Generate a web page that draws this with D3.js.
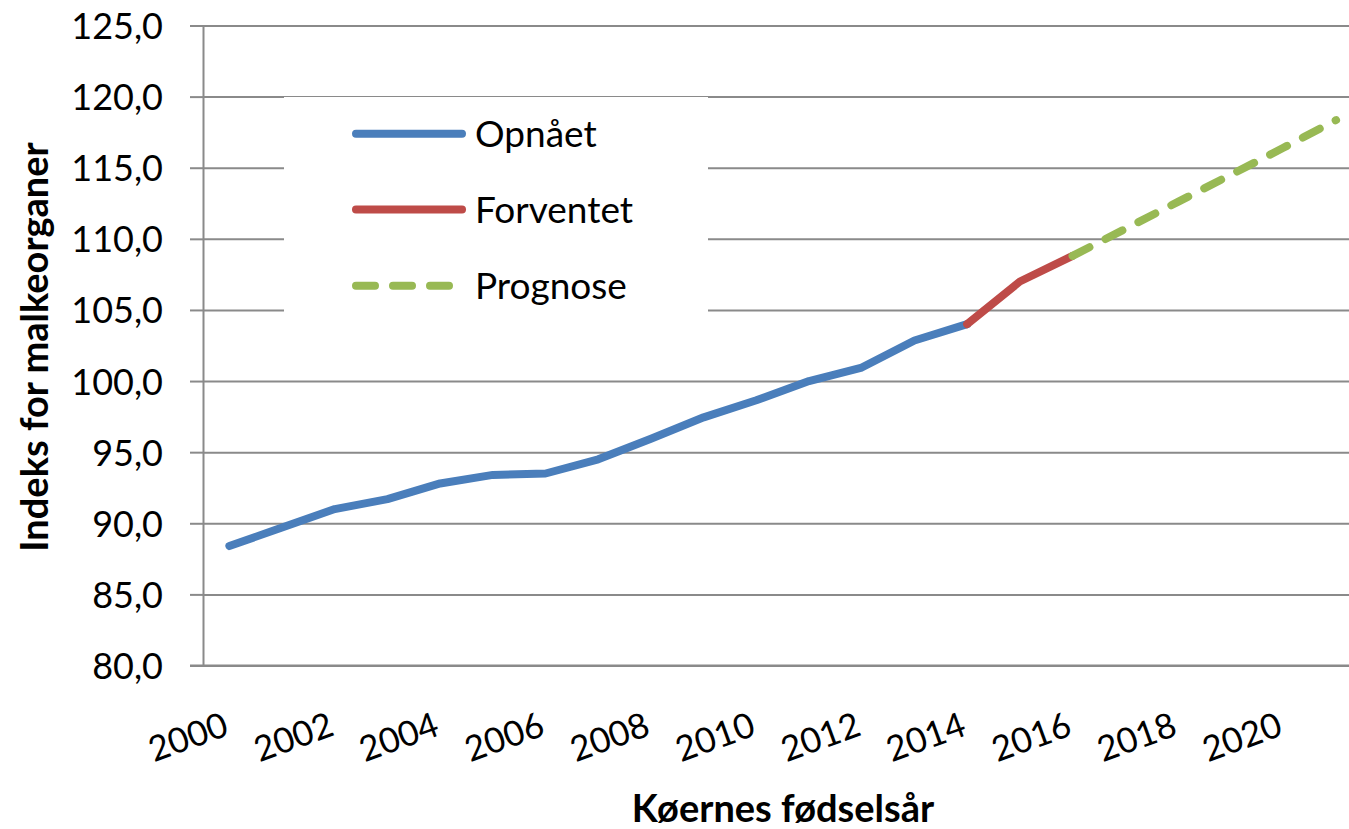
<!DOCTYPE html>
<html>
<head>
<meta charset="utf-8">
<script src="https://cdn.jsdelivr.net/npm/d3@7"></script>
<style>
  html, body { margin: 0; padding: 0; background: #ffffff; overflow: hidden; }
  svg { display: block; }
  text { font-family: Lato, "Open Sans", "Liberation Sans", sans-serif; fill: #000; }
</style>
</head>
<body>
<svg id="chart" width="1349" height="829"></svg>
<script>
// ---- data ----
const years = d3.range(2000, 2022).map(String);
const yTicks = [80, 85, 90, 95, 100, 105, 110, 115, 120, 125];
const xTickLabels = ["2000","2002","2004","2006","2008","2010","2012","2014","2016","2018","2020"];

const opnaetYears = ["2000","2001","2002","2003","2004","2005","2006","2007","2008","2009","2010","2011","2012","2013","2014"];
const opnaetValues = [88.4, 89.7, 91.0, 91.7, 92.8, 93.4, 93.5, 94.5, 95.95, 97.45, 98.65, 100.0, 100.95, 102.85, 104.0];

const forventetYears = ["2014","2015","2016"];
const forventetValues = [104.0, 107.0, 108.8];

const prognoseYears = ["2016","2017","2018","2019","2020","2021"];
const prognoseValues = [108.8, 110.7, 112.6, 114.5, 116.4, 118.35];

const seriesNames = ["Opnået", "Forventet", "Prognose"];
const seriesColors = ["#4a7ebb", "#be4b48", "#98b954"];

const yTitle = "Indeks for malkeorganer";
const xTitle = "Køernes fødselsår";

// ---- layout ----
const plotLeft = 203, plotTop = 25.5, plotBottom = 665.5;
const band = 52.7;
const plotRight = plotLeft + band * years.length;

const svg = d3.select("#chart");

const x = d3.scaleBand().domain(years).range([plotLeft, plotRight]).padding(0);
const xc = d => x(d) + x.bandwidth() / 2;
const y = d3.scaleLinear().domain([80, 125]).range([plotBottom, plotTop]);

const gridColor = "#8a8a8a";

// gridlines
const grid = svg.append("g")
  .attr("transform", `translate(${plotLeft},0)`)
  .call(d3.axisLeft(y).tickValues(yTicks).tickSizeInner(-(plotRight - plotLeft)).tickSizeOuter(0).tickFormat(""));
grid.select(".domain").remove();
grid.selectAll(".tick line").attr("stroke", gridColor).attr("stroke-width", 2);

// y axis ticks + labels
const fmt = v => d3.format(".1f")(v).replace(".", ",");
const yAxis = svg.append("g")
  .attr("transform", `translate(${plotLeft},0)`)
  .call(d3.axisLeft(y).tickValues(yTicks).tickSize(13).tickPadding(27).tickFormat(fmt));
yAxis.select(".domain").attr("stroke", gridColor).attr("stroke-width", 2);
yAxis.selectAll(".tick line").attr("stroke", gridColor).attr("stroke-width", 2);
yAxis.selectAll(".tick text")
  .attr("font-family", "Lato, 'Open Sans', sans-serif")
  .attr("font-size", 36).attr("fill", "#000").attr("dy", "0.36em");

// x axis
const xAxis = svg.append("g")
  .attr("transform", `translate(0,${plotBottom})`)
  .call(d3.axisBottom(x).tickValues(xTickLabels).tickSize(0).tickFormat(d => d));
xAxis.select(".domain").remove();
xAxis.append("line")
  .attr("x1", plotLeft - 13).attr("x2", plotRight)
  .attr("y1", 0).attr("y2", 0)
  .attr("stroke", gridColor).attr("stroke-width", 2);
xAxis.selectAll(".tick text")
  .attr("font-family", "Lato, 'Open Sans', sans-serif")
  .attr("font-size", 35).attr("fill", "#000")
  .attr("text-anchor", "end")
  .attr("x", 0).attr("y", 0).attr("dy", 0)
  .attr("transform", "translate(1,69) rotate(-20)");

// legend box (white, covers gridlines)
const legend = svg.append("g");
legend.append("rect")
  .attr("x", 284).attr("y", 97).attr("width", 424).attr("height", 222)
  .attr("fill", "#fff");
const legendY = [133.7, 209.5, 285.7];
seriesNames.forEach((name, i) => {
  legend.append("line")
    .attr("x1", 356).attr("x2", 462)
    .attr("y1", legendY[i]).attr("y2", legendY[i])
    .attr("stroke", seriesColors[i]).attr("stroke-width", 8)
    .attr("stroke-linecap", "round")
    .attr("stroke-dasharray", i === 2 ? "19,18" : null);
  legend.append("text")
    .attr("x", 475).attr("y", legendY[i]).attr("dy", "0.36em")
    .attr("font-size", 37).text(name);
});

// lines
const line = d3.line().x(d => xc(d[0])).y(d => y(d[1]));
const seriesData = [
  d3.zip(opnaetYears, opnaetValues),
  d3.zip(forventetYears, forventetValues),
  d3.zip(prognoseYears, prognoseValues)
];
seriesData.forEach((data, i) => {
  svg.append("path")
    .datum(data)
    .attr("d", line)
    .attr("fill", "none")
    .attr("stroke", seriesColors[i])
    .attr("stroke-width", 8)
    .attr("stroke-linecap", "round")
    .attr("stroke-linejoin", "round")
    .attr("stroke-dasharray", i === 2 ? "19,18" : null);
});

// axis titles
svg.append("text")
  .attr("x", 783).attr("y", 822)
  .attr("text-anchor", "middle")
  .attr("font-weight", "bold").attr("font-size", 38)
  .text(xTitle);
svg.append("text")
  .attr("transform", "translate(48,347) rotate(-90)")
  .attr("text-anchor", "middle")
  .attr("font-weight", "bold").attr("font-size", 38)
  .text(yTitle);
</script>
</body>
</html>
